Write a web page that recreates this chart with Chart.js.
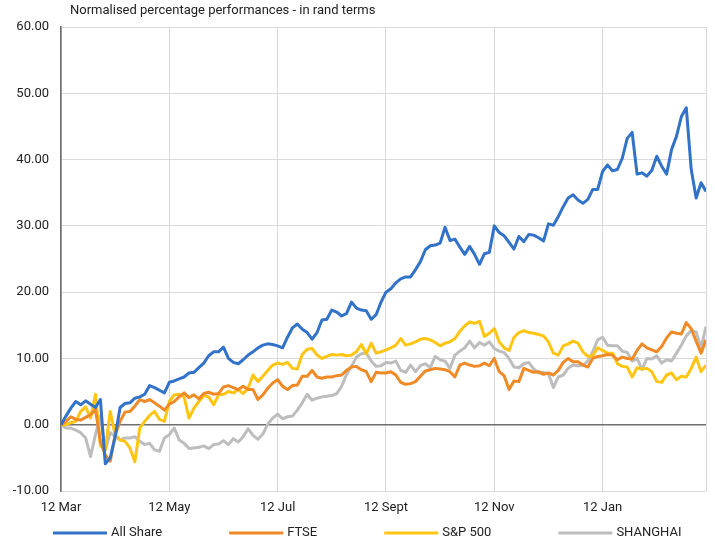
<!DOCTYPE html>
<html>
<head>
<meta charset="utf-8">
<script src="https://cdn.jsdelivr.net/npm/chart.js@4"></script>
<style>
  html, body { margin: 0; padding: 0; background: #ffffff; }
  #wrap { width: 715px; height: 544px; position: relative; }
</style>
</head>
<body>
<div id="wrap"><canvas id="c" width="715" height="544"></canvas></div>
<script>
// ---- data ----
const chartTitle = 'Normalised percentage performances - in rand terms';
const seriesNames = ['All Share', 'FTSE', 'S&P 500', 'SHANGHAI'];
const tickLabels = ['12 Mar', '12 May', '12 Jul', '12 Sept', '12 Nov', '12 Jan'];
const daysPerTickLabel = 22;   // trading-day index between labelled ticks
const lastDayIndex = 131;

const allShare = [
  0, 1.3, 2.5, 3.5, 3.0, 3.6, 3.1, 2.6, 3.8, -5.9,
  -5.0, -1.8, 2.6, 3.2, 3.3, 4.0, 4.2, 4.6, 5.9, 5.6,
  5.2, 4.8, 6.4, 6.6, 6.9, 7.2, 7.8, 7.9, 8.6, 9.3,
  10.4, 11.0, 11.0, 11.7, 10.0, 9.4, 9.2, 9.8, 10.5, 11.0,
  11.6, 12.0, 12.2, 12.1, 11.9, 11.6, 13.2, 14.6, 15.2, 14.4,
  13.9, 12.9, 13.9, 15.8, 15.9, 17.3, 17.0, 16.4, 16.8, 18.5,
  17.6, 17.3, 17.2, 15.9, 16.6, 18.5, 20.0, 20.5, 21.4, 22.0,
  22.3, 22.3, 23.4, 24.6, 26.4, 27.0, 27.1, 27.4, 29.8, 27.8,
  28.0, 26.8, 25.7, 26.9, 25.7, 24.2, 25.8, 26.0, 30.0, 29.0,
  28.5, 27.5, 26.5, 28.4, 27.6, 28.7, 28.6, 28.2, 27.7, 30.3,
  30.1, 31.4, 32.9, 34.2, 34.7, 33.9, 33.4, 34.0, 35.5, 35.5,
  38.2, 39.2, 38.3, 38.5, 40.2, 43.2, 44.1, 37.8, 38.0, 37.5,
  38.4, 40.5, 39.0, 37.8, 41.5, 43.5, 46.5, 47.8, 38.5, 34.2,
  36.5, 35.2
];
const ftse = [
  0, 0.5, 1.2, 0.8, 0.7, 1.1, 1.5, 2.3, -2.5, -4.6,
  -5.5, -1.5, 0.5, 1.9, 2.0, 2.8, 3.8, 3.5, 3.8, 3.3,
  2.8, 2.2, 3.1, 3.5, 4.2, 4.8, 4.1, 4.5, 3.9, 4.7,
  4.9, 4.6, 4.7, 5.7, 5.9, 5.6, 5.3, 5.8, 5.3, 5.3,
  3.8, 4.5, 5.5, 6.3, 6.8, 5.8, 5.3, 5.9, 6.0, 7.3,
  7.3, 8.2, 7.2, 7.0, 7.2, 7.2, 7.4, 7.5, 8.2, 8.7,
  8.8, 8.3, 8.0, 6.5, 7.9, 7.8, 7.8, 8.0, 7.5, 6.4,
  6.1, 6.2, 6.5, 7.3, 8.1, 8.3, 8.5, 8.4, 8.3, 8.0,
  7.2, 9.0, 9.3, 9.0, 8.8, 8.9, 9.3, 8.9, 10.0, 8.0,
  7.4, 5.3, 6.6, 6.5, 8.5, 8.2, 7.9, 8.0, 7.6, 7.8,
  7.5, 8.2, 9.4, 10.0, 9.5, 9.5, 9.0, 8.7, 10.0, 10.3,
  10.4, 10.6, 10.5, 9.8, 10.2, 10.0, 9.9, 11.2, 12.2, 11.6,
  11.3, 11.0, 11.8, 13.1, 14.0, 13.8, 13.7, 15.4, 14.5, 12.6,
  10.8, 12.8
];
const sp500 = [
  0, 0.0, 0.3, 0.5, 2.0, 2.7, 1.0, 4.6, -3.2, -3.8,
  2.0, -1.5, -2.3, -2.5, -3.5, -5.6, -0.5, 0.5, 1.4, 2.0,
  0.8, 0.5, 3.5, 4.5, 4.6, 4.2, 1.0, 2.5, 3.5, 4.4,
  4.2, 3.0, 4.5, 4.6, 5.0, 4.8, 5.3, 4.7, 5.5, 7.5,
  6.5, 7.3, 8.2, 9.0, 9.3, 9.1, 9.4, 8.5, 8.4, 10.6,
  11.4, 11.5, 10.5, 10.0, 10.3, 10.6, 10.5, 10.6, 10.4, 10.5,
  11.0, 12.1, 10.7, 12.3, 10.8, 11.0, 11.3, 11.6, 12.0, 13.0,
  12.0, 12.2, 12.5, 12.9, 13.0, 12.8, 12.4, 11.9, 12.3, 12.5,
  13.0, 14.1, 14.9, 15.5, 15.3, 15.6, 13.3, 13.8, 14.5, 12.5,
  11.6, 11.2, 13.2, 13.9, 14.2, 13.9, 13.8, 13.6, 13.4, 12.5,
  10.8, 10.5, 11.9, 12.2, 12.6, 12.3, 11.0, 10.3, 10.4, 11.6,
  11.2, 10.8, 10.8, 9.2, 8.8, 8.7, 7.2, 8.6, 8.4, 8.5,
  8.0, 6.5, 6.4, 7.5, 7.8, 6.8, 7.3, 7.2, 8.5, 10.2,
  8.0, 9.0
];
const shanghai = [
  0, -0.5, -0.5, -0.8, -1.2, -2.0, -4.8, -1.5, 1.3, -3.8,
  -1.2, -1.8, -2.3, -2.0, -2.0, -1.8, -2.5, -3.0, -2.8, -3.8,
  -4.0, -2.0, -1.5, -0.5, -2.3, -2.8, -3.6, -3.5, -3.4, -3.2,
  -3.6, -3.0, -2.9, -2.4, -3.0, -2.1, -2.6, -1.8, -0.6, -1.6,
  -2.2, -1.4, 0.1, 1.0, 1.6, 0.9, 1.2, 1.3, 2.2, 3.3,
  4.6, 3.7, 4.0, 4.2, 4.3, 4.4, 4.7, 5.8, 7.6, 8.8,
  10.2, 10.7, 10.8, 9.6, 8.8, 8.9, 9.4, 9.3, 9.6, 8.2,
  7.9, 9.0, 8.0, 8.9, 9.2, 8.6, 10.3, 9.8, 9.6, 8.5,
  10.5, 11.1, 11.6, 12.6, 11.6, 12.4, 12.0, 12.5, 11.5, 11.1,
  10.9, 10.0, 8.7, 8.6, 9.2, 9.4, 8.4, 7.8, 7.9, 7.7,
  5.6, 7.2, 7.5, 8.5, 9.0, 8.9, 9.0, 9.6, 11.0, 12.8,
  13.2, 12.0, 11.9, 11.9, 11.1, 10.9, 9.6, 10.0, 8.3, 10.0,
  9.9, 10.4, 9.3, 9.8, 9.6, 10.8, 12.0, 13.4, 14.2, 14.0,
  11.6, 14.8
];
const yMin = -10, yMax = 60, yStep = 10;

// ---- styling ----
const seriesColors = ['#3272c8', '#f08a26', '#ffc512', '#bdbdbd'];
const FONT = 'Roboto';
const TEXT = '#222222';

const toPoints = (arr) => arr.map((v, i) => ({ x: i, y: v }));
const seriesValues = [allShare, ftse, sp500, shanghai];

const titlePlugin = {
  id: 'topTitle',
  afterDraw(chart) {
    const { ctx, chartArea } = chart;
    ctx.save();
    ctx.font = '13px ' + FONT;
    ctx.fillStyle = TEXT;
    ctx.textAlign = 'left';
    ctx.textBaseline = 'middle';
    ctx.fillText(chartTitle, chartArea.left + 9, 11);
    ctx.restore();
  }
};

const legendPlugin = {
  id: 'bottomLegend',
  afterDraw(chart) {
    const { ctx } = chart;
    ctx.save();
    ctx.font = '13px ' + FONT;
    ctx.textAlign = 'left';
    ctx.textBaseline = 'middle';
    let x = 53;
    const y = 533;
    chart.data.datasets.forEach((ds) => {
      ctx.strokeStyle = ds.borderColor;
      ctx.lineWidth = 3;
      ctx.beginPath();
      ctx.moveTo(x, y);
      ctx.lineTo(x + 54, y);
      ctx.stroke();
      ctx.fillStyle = TEXT;
      ctx.fillText(ds.label, x + 58, y);
      x += 58 + ctx.measureText(ds.label).width + 67;
    });
    ctx.restore();
  }
};

new Chart(document.getElementById('c'), {
  type: 'line',
  data: {
    datasets: seriesNames.map((name, k) => ({
      label: name,
      data: toPoints(seriesValues[k]),
      borderColor: seriesColors[k],
      backgroundColor: seriesColors[k],
      borderWidth: 3,
      borderJoinStyle: 'round',
      pointRadius: 0,
      tension: 0,
      fill: false
    }))
  },
  options: {
    responsive: false,
    animation: false,
    events: [],
    layout: { padding: { left: 0, right: 5, top: 27, bottom: 27 } },
    plugins: {
      legend: { display: false },
      title: { display: false },
      tooltip: { enabled: false }
    },
    scales: {
      x: {
        type: 'linear',
        min: 0,
        max: lastDayIndex,
        afterBuildTicks(axis) {
          const t = tickLabels.map((_, k) => ({ value: k * daysPerTickLabel }));
          t.push({ value: lastDayIndex });
          axis.ticks = t;
        },
        afterFit(axis) { axis.height = 26; },
        ticks: {
          autoSkip: false,
          maxRotation: 0,
          padding: 9,
          color: TEXT,
          font: { family: FONT, size: 13 },
          callback(v) {
            const k = v / daysPerTickLabel;
            return Number.isInteger(k) && tickLabels[k] !== undefined ? tickLabels[k] : '';
          }
        },
        grid: { color: '#dadada', lineWidth: 1, drawTicks: false },
        border: { display: false }
      },
      y: {
        min: yMin,
        max: yMax,
        afterFit(axis) { axis.width = 61; },
        ticks: {
          stepSize: yStep,
          padding: 12,
          color: TEXT,
          font: { family: FONT, size: 13 },
          callback(v) { return Number(v).toFixed(2); }
        },
        grid: {
          drawTicks: false,
          color: (c) => (c.tick && c.tick.value === 0 ? '#6f6f6f' : '#dadada'),
          lineWidth: (c) => (c.tick && c.tick.value === 0 ? 1.6 : 1)
        },
        border: { display: true, color: '#6f6f6f', width: 1.6 }
      }
    }
  },
  plugins: [titlePlugin, legendPlugin]
});
</script>
</body>
</html>
